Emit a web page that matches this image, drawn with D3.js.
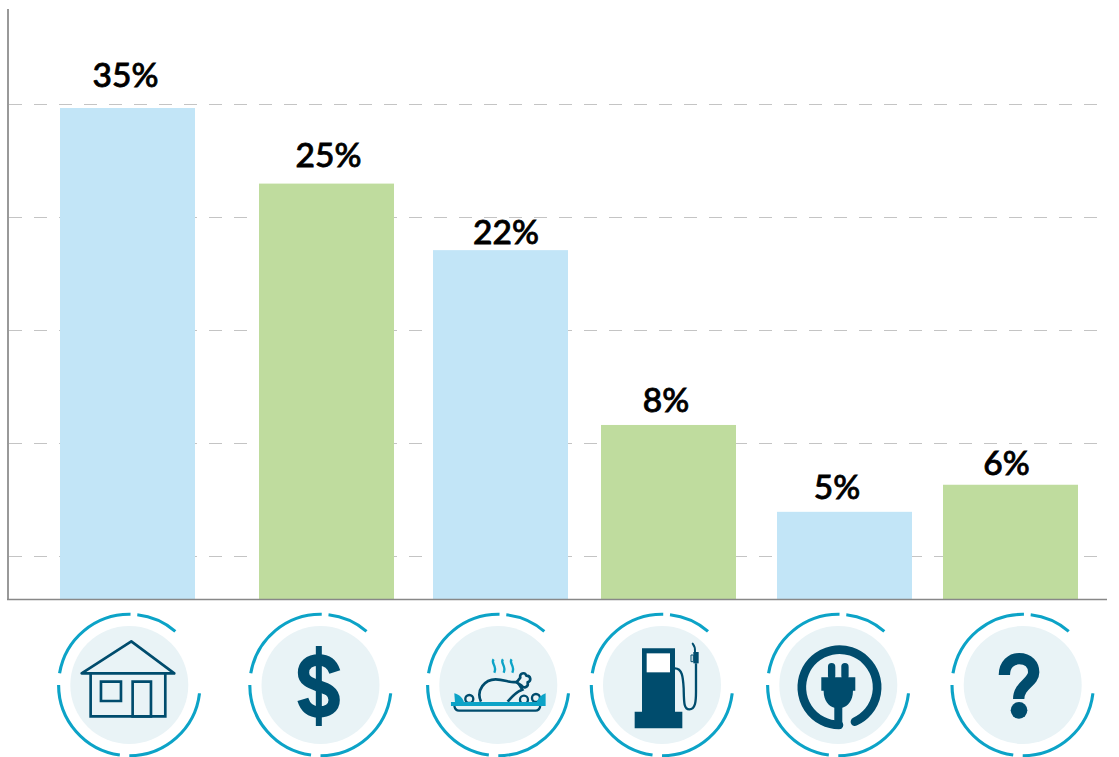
<!DOCTYPE html>
<html><head><meta charset="utf-8">
<script src="https://cdn.jsdelivr.net/npm/d3@7"></script>
<style>html,body{margin:0;padding:0;background:#fff}svg{display:block}</style>
</head><body><div id="chart"></div>
<script>
const categories = ["Housing","Money","Food","Gas","Electricity","Unknown"];
const barValues = [43.6,36.9,31.0,15.5,7.8,10.2];
const labels = ["35%","25%","22%","8%","5%","6%"];
const colorGroups = ["a","b","a","b","a","b"];
const gridValues = [3.9,13.9,23.9,33.9,43.9];

const W=1119,H=757,base=599.5,bw=135,cy=685;
const svg=d3.select("#chart").append("svg").attr("width",W).attr("height",H);
const y=d3.scaleLinear().domain([0,53.15]).range([base,0]);
const barX=d3.scaleOrdinal().domain(categories).range([60,259,433,601,777,943]);
const labelX=d3.scaleOrdinal().domain(categories).range([125.5,328.5,506,666,837,1006.5]);
const labelGap=d3.scaleOrdinal().domain(categories).range([21,16,6,13,13,9]);
const iconX=d3.scaleOrdinal().domain(categories).range([129.3,320.5,498.3,662,838.3,1022.7]);
const color=d3.scaleOrdinal().domain(["a","b"]).range(["#c2e5f7","#bfdc9e"]);
const dark="#004c6d",ring="#0ca3c7",disc="#e9f3f6";

svg.append("g").selectAll("line").data(gridValues).join("line")
 .attr("x1",9).attr("x2",1109).attr("y1",d=>Math.round(y(d))+.5).attr("y2",d=>Math.round(y(d))+.5)
 .attr("stroke","#c4c4c4").attr("stroke-width",1.2).attr("stroke-dasharray","13 12");

svg.append("g").selectAll("rect").data(categories).join("rect")
 .attr("x",d=>barX(d)).attr("width",bw)
 .attr("y",(d,i)=>y(barValues[i])+.3).attr("height",(d,i)=>base-y(barValues[i])-.3)
 .attr("fill",(d,i)=>color(colorGroups[i]));

svg.append("line").attr("x1",8).attr("x2",8).attr("y1",9).attr("y2",600).attr("stroke","#999").attr("stroke-width",2);
svg.append("line").attr("x1",7).attr("x2",1107).attr("y1",599.5).attr("y2",599.5).attr("stroke","#888").attr("stroke-width",1.5);

svg.append("g").selectAll("text").data(categories).join("text")
 .attr("x",d=>labelX(d)).attr("y",(d,i)=>y(barValues[i])-labelGap(d))
 .attr("text-anchor","middle").attr("font-family","Lato").attr("font-size",33.5)
 .attr("font-weight",500).attr("fill","#000").attr("stroke","#000").attr("stroke-width",.8)
 .text((d,i)=>labels[i]);

const arcG=d3.arc();
const segs=[[6.5,40.6],[96.8,180],[187.7,270],[279.5,361]];
const rad=d=>d*Math.PI/180;
const icons=svg.append("g").selectAll("g").data(categories).join("g")
 .attr("transform",d=>`translate(${iconX(d)},${cy})`);
icons.append("circle").attr("r",59).attr("fill",disc);
icons.selectAll("path.seg").data(segs).join("path").attr("class","seg")
 .attr("d",s=>arcG({innerRadius:70.7,outerRadius:70.7,startAngle:rad(s[0]),endAngle:rad(s[1])}))
 .attr("fill","none").attr("stroke",ring).attr("stroke-width",3.1).attr("stroke-linecap","round");

const art=icons.append("g").attr("transform","scale(0.3333)");
const P=(g,d,o)=>{const p=g.append("path").attr("d",d).attr("fill",o.fill||"none");
 if(o.stroke){p.attr("stroke",o.stroke).attr("stroke-width",o.w).attr("stroke-linecap",o.cap||"butt").attr("stroke-linejoin",o.join||"miter");}return p;};
const at=i=>d3.select(art.nodes()[i]);

// house
let g=at(0);
P(g,"M-143,-35L6,-131L135,-35Z",{stroke:dark,w:8,join:"round"});
P(g,"M-116,-35V94H108V-35",{stroke:dark,w:8});
P(g,"M-85,-10H-25V48H-85Z",{stroke:dark,w:8});
P(g,"M10,-10H65V94H10Z",{stroke:dark,w:8});

// dollar
g=at(1).append("g").attr("transform","translate(-5,3)");
P(g,"M48,-42C40,-68 22,-78 0,-78C-30,-78 -46,-62 -46,-40C-46,-14 -22,-8 0,0C24,8 46,16 46,42C46,66 26,78 0,78C-24,78 -40,66 -48,40",{stroke:dark,w:34});
P(g,"M-9,-120H9V120H-9Z",{fill:dark});

// turkey
g=at(2);
["M-14,-77C-24,-65 -2,-58 -12,-37","M14,-77C4,-65 26,-58 16,-37","M40,-77C30,-65 52,-58 42,-37"].forEach(d=>P(g,d,{stroke:ring,w:7}));
P(g,"M-52,50C-68,15 -40,-17 -8,-17C20,-17 40,-3 57,-10L72,14C55,20 40,35 28,50",{stroke:dark,w:8,fill:"none"});
P(g,"M55,-8L66,-22C62,-36 80,-40 84,-28C98,-28 100,-12 88,-8C92,6 76,12 70,2Z",{stroke:dark,w:8,fill:disc,join:"round"});
[[-87,42],[77,44],[113,39]].forEach(c=>g.append("circle").attr("cx",c[0]).attr("cy",c[1]).attr("r",12).attr("fill","none").attr("stroke",dark).attr("stroke-width",7));
P(g,"M-132,25C-118,28 -108,38 -103,51H-130Z",{fill:ring});
P(g,"M142,25C128,30 120,40 115,51H142Z",{fill:ring});
P(g,"M-132,63C-130,72 -125,77 -118,77H112C120,77 124,72 126,63",{stroke:dark,w:7});
P(g,"M-142,51H142V63H-142Z",{fill:ring});

// pump
g=at(3);
P(g,"M-60,-110H39V80H61V130H-82V80H-60Z",{fill:dark});
P(g,"M-46,-95H24V-38H-46Z",{fill:"#fff"});
P(g,"M39,-50C60,-50 63,-25 65,10C66,50 65,73 82,73C100,73 102,50 102,20V-65",{stroke:dark,w:7});
P(g,"M94,-99H110V-65H94Z",{fill:dark});
P(g,"M87,-90H94V-70H87Z",{stroke:dark,w:3,fill:disc});
P(g,"M99,-99C100,-110 97,-118 92,-124",{stroke:dark,w:6,cap:"round"});

// plug
g=at(4);
P(g,"M50,110A113,113 0 1 0 2,120",{stroke:dark,w:26,cap:"round"});
P(g,"M-51,-23H51V17H44C44,48 28,64 12,68V125Q12,131 6,131H-12V68C-28,64 -44,48 -44,17H-51Z",{fill:dark});
g.append("rect").attr("x",-31).attr("y",-66).attr("width",22).attr("height",50).attr("rx",11).attr("fill",dark);
g.append("rect").attr("x",9).attr("y",-66).attr("width",22).attr("height",50).attr("rx",11).attr("fill",dark);

// question
g=at(5);
P(g,"M-55,-30C-55,-62 -33,-79 -11,-79C18,-79 33,-60 33,-38C33,-8 -12,0 -12,42",{stroke:dark,w:34});
g.append("circle").attr("cx",-11).attr("cy",76).attr("r",25).attr("fill",dark);
</script></body></html>
